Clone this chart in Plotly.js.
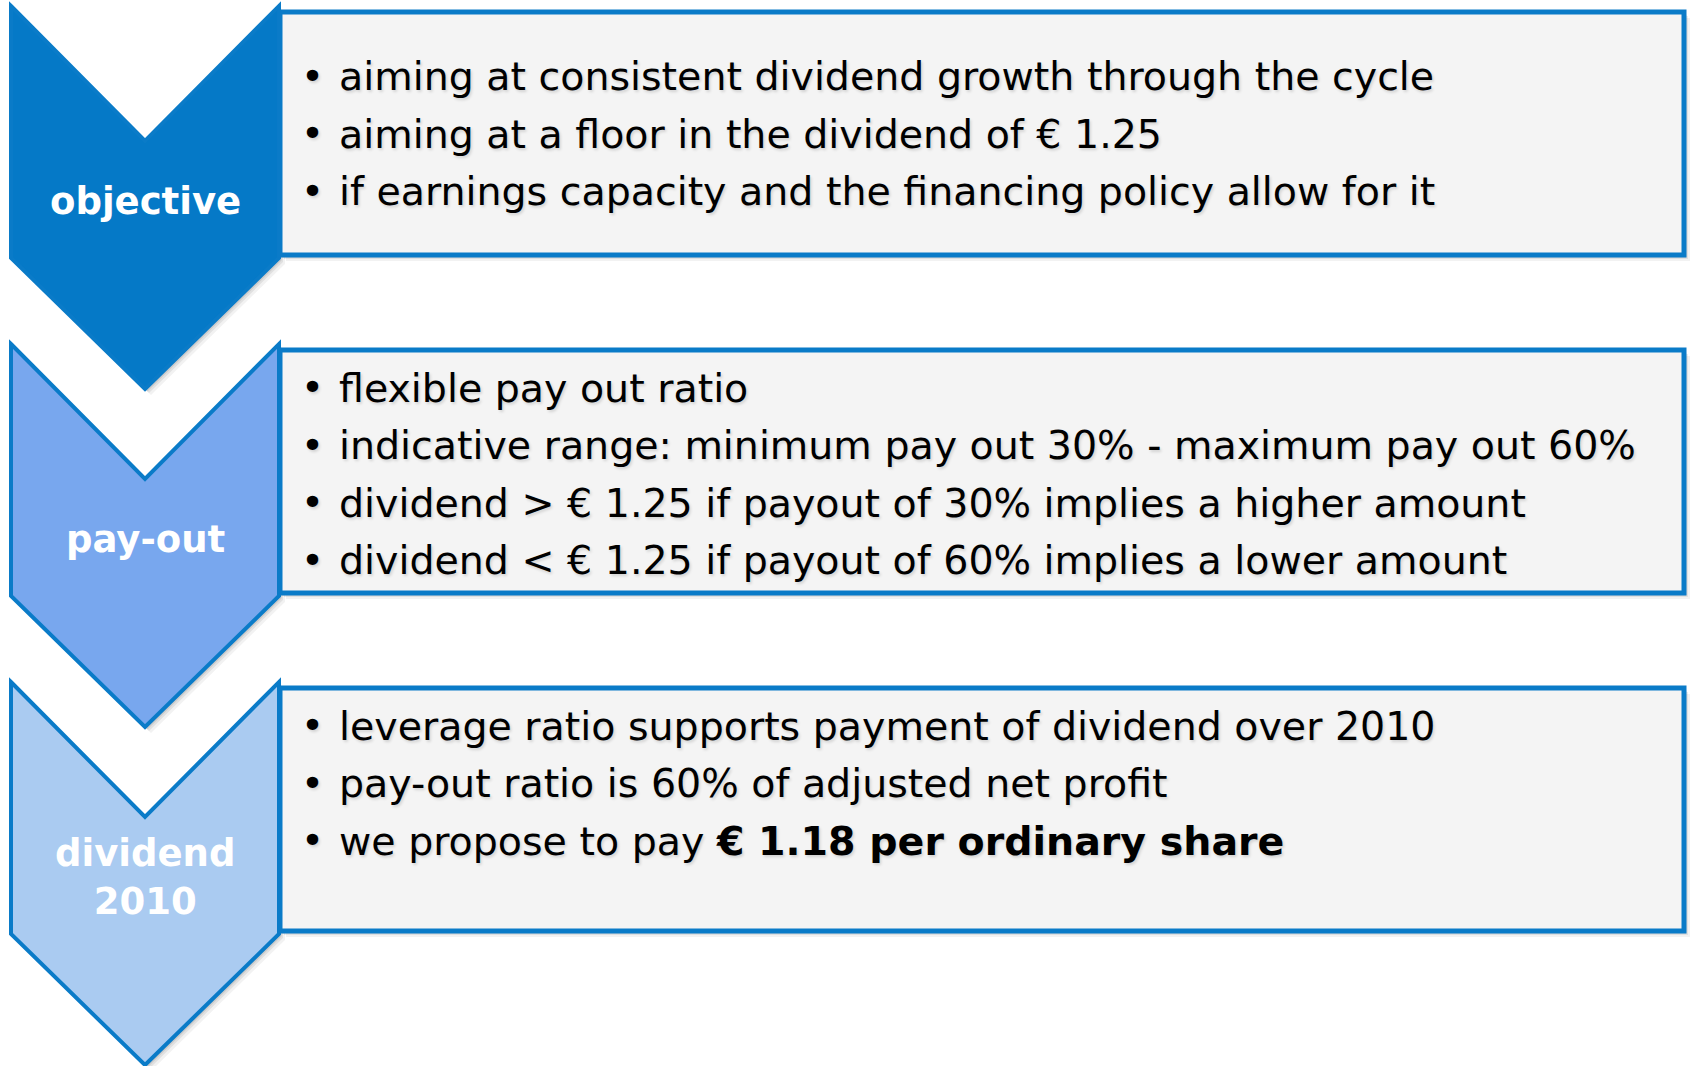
<!DOCTYPE html>
<html>
<head>
<meta charset="utf-8">
<script src="https://cdn.plot.ly/plotly-3.0.1.min.js"></script>
<style>
  html, body { margin: 0; padding: 0; background: #ffffff; }
  #chart { width: 1694px; height: 1066px; }
</style>
</head>
<body>
<div id="chart"></div>
<script>
// ---------------- data ----------------
const stageLabels = ['objective', 'pay-out', 'dividend<br>2010'];

const objectiveBullets = [
  'aiming at consistent dividend growth through the cycle',
  'aiming at a floor in the dividend of € 1.25',
  'if earnings capacity and the financing policy allow for it'
];
const payoutBullets = [
  'flexible pay out ratio',
  'indicative range: minimum pay out 30% - maximum pay out 60%',
  'dividend > € 1.25 if payout of 30% implies a higher amount',
  'dividend < € 1.25 if payout of 60% implies a lower amount'
];
const dividendBullets = [
  'leverage ratio supports payment of dividend over 2010',
  'pay-out ratio is 60% of adjusted net profit',
  'we propose to pay <b>€ 1.18 per ordinary share</b>'
];
const stageBullets = [objectiveBullets, payoutBullets, dividendBullets];

// ---------------- styles / geometry ----------------
const W = 1694, H = 1066;
const chevronFill = ['#0579C7', '#78A7EE', '#AACBF1'];
const borderColor = '#0A7BC8';
const boxFill = '#F4F4F4';
const boxValign = ['middle', 'top', 'top'];
const textShadow = '1.5px 1.5px 3px rgba(0,0,0,0.14)';

const G = {
  top0: 6, step: 338,
  cxL: 11, cxR: 279, notch: 135, side: 252, point: 383,
  bx0: 280, bx1: 1684, btop: 6, bbot: 249,
  lineGap: 57.5, topPad: 37.5,
  bulletX: 312, textX: 337,
  labelDy: 195
};

function chevronPath(t, dx, dy) {
  const xL = G.cxL + dx, xR = G.cxR + dx, xC = (G.cxL + G.cxR) / 2 + dx;
  const y = t + dy;
  return `M ${xL},${y} L ${xC},${y + G.notch} L ${xR},${y} L ${xR},${y + G.side} ` +
         `L ${xC},${y + G.point} L ${xL},${y + G.side} Z`;
}

const shapes = [];
const annotations = [];

stageLabels.forEach((label, i) => {
  const t = G.top0 + i * G.step;
  const bt = t + G.btop, bb = t + G.bbot;
  // soft drop shadows
  [[6, 0.05], [4, 0.07], [2.5, 0.09]].forEach(([o, a]) => {
    shapes.push({ type: 'path', xref: 'x', yref: 'y', path: chevronPath(t, o, o),
      fillcolor: `rgba(0,0,0,${a})`, line: { width: 0 }, layer: 'below' });
    shapes.push({ type: 'rect', xref: 'x', yref: 'y', x0: G.bx0 + o, x1: G.bx1 + o, y0: bt + o, y1: bb + o,
      fillcolor: `rgba(0,0,0,${a})`, line: { width: 0 }, layer: 'below' });
  });
});

stageLabels.forEach((label, i) => {
  const t = G.top0 + i * G.step;
  const bt = t + G.btop, bb = t + G.bbot;
  shapes.push({ type: 'path', xref: 'x', yref: 'y', path: chevronPath(t, 0, 0),
    fillcolor: chevronFill[i], line: { color: borderColor, width: 4 }, layer: 'above' });
  shapes.push({ type: 'rect', xref: 'x', yref: 'y', x0: G.bx0, x1: G.bx1, y0: bt, y1: bb,
    fillcolor: boxFill, line: { color: borderColor, width: 5 }, layer: 'above' });

  annotations.push({
    xref: 'x', yref: 'y', x: (G.cxL + G.cxR) / 2, y: t + G.labelDy,
    text: label, showarrow: false, xanchor: 'center', yanchor: 'middle', align: 'center',
    font: { family: 'DejaVu Sans', size: 37, color: '#ffffff', weight: 'bold' }
  });

  const lines = stageBullets[i];
  const n = lines.length;
  let y0;
  if (boxValign[i] === 'middle') {
    y0 = (bt + bb) / 2 - (n - 1) * G.lineGap / 2;
  } else {
    y0 = bt + G.topPad;
  }
  lines.forEach((txt, k) => {
    const y = y0 + k * G.lineGap;
    annotations.push({
      xref: 'x', yref: 'y', x: G.bulletX, y: y, text: '•', showarrow: false,
      xanchor: 'center', yanchor: 'middle',
      font: { family: 'DejaVu Sans', size: 39, color: '#000000', shadow: textShadow }
    });
    annotations.push({
      xref: 'x', yref: 'y', x: G.textX, y: y, text: txt, showarrow: false,
      xanchor: 'left', yanchor: 'middle', align: 'left',
      font: { family: 'DejaVu Sans', size: 39.5, color: '#000000', shadow: textShadow }
    });
  });
});

const layout = {
  width: W, height: H,
  margin: { l: 0, r: 0, t: 0, b: 0, pad: 0 },
  paper_bgcolor: '#ffffff', plot_bgcolor: '#ffffff',
  showlegend: false,
  xaxis: { range: [0, W], visible: false, fixedrange: true },
  yaxis: { range: [H, 0], visible: false, fixedrange: true },
  shapes: shapes,
  annotations: annotations
};

Plotly.newPlot('chart', [{ x: [], y: [], type: 'scatter', hoverinfo: 'skip' }], layout,
  { staticPlot: true, displayModeBar: false });
</script>
</body>
</html>
